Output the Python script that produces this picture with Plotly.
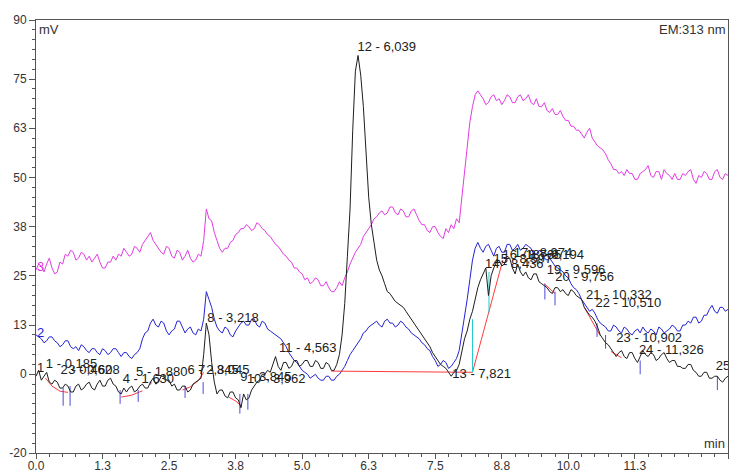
import plotly.graph_objects as go

# ---------------- data ----------------
t_grid = [round(i * 0.05, 2) for i in range(261)]

magenta_mv = [
    26.5, 28, 27.5, 26, 28, 29.5, 27, 25.5, 26, 28.5, 28, 30.5, 30, 31.5, 31, 29, 29.5, 31, 30.5, 29,
    30, 28.5, 29.5, 30.5, 28.5, 27, 27, 28.5, 28.5, 30, 29, 30.5, 30, 32, 31, 30, 30.5, 32.5, 32, 31,
    33, 34, 35, 36, 34, 33, 32, 31, 30.5, 32.5, 32, 30, 29.5, 31.5, 31, 29, 30, 31.5, 29.5, 28.5,
    29, 30.5, 30, 34, 42, 39.5, 39, 36, 34, 32, 31, 32, 32, 33.5, 34, 35.5, 36, 37, 37, 38,
    37.5, 36.5, 37, 38.5, 38, 37, 36.5, 35.5, 35, 34, 33, 32.5, 31.5, 30.5, 30, 29, 28.5, 27, 27, 26,
    25.5, 24, 24.5, 23, 23.5, 24.5, 24, 22.5, 22.5, 23.5, 22, 21, 21, 22, 23.5, 22.5, 24.5, 26, 28, 29.5,
    31, 32, 33, 35, 36, 37, 38, 39.5, 40, 41, 41.5, 40.5, 41, 42.5, 42.5, 41, 40.5, 42, 41.5, 40,
    40, 41.5, 42, 40.5, 39, 38, 38, 36.5, 36, 37.5, 37.5, 36, 35, 34.5, 37, 36, 38, 37, 39.5, 38.5,
    45, 52, 58, 64, 68, 71, 72, 71, 70, 68.5, 69, 70.5, 71, 69.5, 70, 68.5, 69.5, 71, 70.5, 69,
    69, 70.5, 71, 69.5, 70, 71, 69, 68.5, 70, 68, 68, 69, 67, 66.5, 67.5, 66, 66, 67, 65.5, 64.5,
    64.5, 63, 63, 62, 62, 61, 60, 61.5, 62.5, 60, 59, 58, 57.5, 57, 56, 54.5, 53.5, 52, 52, 51,
    51.5, 50.5, 52, 51, 51, 49.5, 49.5, 51, 51.5, 52, 53, 50.5, 50, 51.5, 51.5, 49.5, 52, 51, 50.5, 49.5,
    51, 49.5, 49.5, 51, 50.5, 51.5, 52, 49.5, 48.5, 50.5, 50, 51.5, 51, 49.5, 49.5, 51.5, 52, 50, 49.5, 51,
    50.5]

blue_mv = [
    10, 9.5, 9, 8, 8.5, 9.5, 9.5, 8.5, 8, 7, 7.5, 8.5, 8.5, 7, 6.5, 7, 6, 7.5, 7, 6,
    5.5, 6.5, 6.5, 5.5, 5, 6.5, 6, 5, 5.5, 6.5, 6.5, 5.5, 4.5, 5.5, 5.5, 4.5, 4, 5, 5.5, 6.5,
    9, 10.5, 11, 13, 14, 12.5, 12, 13.5, 13, 11, 10, 11, 11.5, 13.5, 13.5, 12, 10.5, 11.5, 12, 10.5,
    10, 11.5, 11, 14, 21, 19, 17, 14, 12, 11, 10.5, 12, 11.5, 10, 9.5, 11, 12, 13, 13.5, 12.5,
    12.5, 14, 14, 12.5, 12, 13.5, 13, 11.5, 11, 10.5, 10, 9.5, 9, 8, 7, 5.5, 4.5, 3.5, 3, 2,
    1, 0.5, 0, -1, -0.5, 0, -1, -1.5, -1.5, -0.5, -0.5, -1.5, -1.5, -0.5, 0, 1, 2, 3.5, 5, 6,
    7, 8, 9, 10.5, 11, 12, 12.5, 13, 13.5, 12.5, 12, 13.5, 14, 13, 13, 12, 12.5, 13.5, 13, 12,
    11.5, 10.5, 10, 9.5, 9, 8, 7.5, 6.5, 6, 4.5, 3.5, 2, 2.5, 3.5, 3, 1.5, 2, 3, 4, 6,
    10, 14, 19, 24, 29, 32, 33.5, 32, 31, 32.5, 33, 31.5, 30, 32, 32.5, 31, 31, 33, 33, 31.5,
    32, 33, 31.5, 32, 33, 32.5, 32, 30.5, 30.5, 31.5, 31, 29.5, 29, 29.5, 28.5, 27.5, 27, 26.5, 26, 25,
    24.5, 23, 22, 21.5, 20.5, 19, 18, 17, 16, 16.5, 15.5, 14, 13, 12.5, 12, 11, 11, 12.5, 12, 11,
    10.5, 12, 11.5, 10.5, 10, 11, 11.5, 10.5, 12, 11, 10.5, 11.5, 11, 10, 12, 11.5, 10.5, 11, 11.5, 12.5,
    12, 11, 11, 12.5, 12.5, 13.5, 13, 14.5, 14.5, 13, 13.5, 15, 15, 16.5, 17.5, 16, 15.5, 17, 17, 16,
    16.5]

black_mv = [
    -0.5, 1, -1.5, -0.5, 0.5, -2, -2.5, -1.5, -2, -3.5, -3.5, -2.5, -3, -4.5, -4.5, -3, -2.5, -4, -3.5, -2.5,
    -2, -3.5, -4, -2.5, -1.5, -3, -3, -1.5, -1, -2.5, -3, -4.5, -5, -3.5, -4.5, -3.5, -3, -4.5, -4, -3,
    -2.5, -3.5, -3.5, -2, -1, -2.5, -2, -0.5, -0.5, -1.5, -1.5, -3, -2.5, -4, -4, -3, -3, -4.5, -4, -2.5,
    -2, -1.5, -1, 5, 13, 10, 3, -2, -5, -4, -4, -5.5, -6, -4.5, -4.5, -6, -6.5, -8.5, -5, -6.5,
    -6, -4, -3, -2, -1.5, 0, 0, 1, 0.5, 2.5, 4.5, 2, 1, 3, 3, 1.5, 2, 3.5, 3.5, 2,
    2.5, 3.5, 3.5, 2, 2, 3.5, 3, 1.5, 1.5, 3, 2.5, 1, 1, 2.5, 5, 10, 18, 30, 42, 62,
    77, 81, 76, 68, 55, 45, 38, 33, 29, 26.5, 25, 23, 21, 20.5, 19.5, 18.5, 18, 17.5, 17, 16,
    15, 14, 13, 12, 11, 10, 9, 8, 7, 5.5, 4.5, 3.5, 2.5, 2, 1.5, 0.5, -0.5, 0.5, 1, 2.5,
    6, 9, 11, 14, 16, 19, 22, 24, 25.5, 27, 20, 25, 27, 28.5, 29, 27.5, 28, 30, 29.5, 27,
    25.5, 28, 26, 25, 26, 24.5, 24, 25.5, 25.5, 23.5, 23, 22.5, 22, 21, 20.5, 22, 22, 21, 21.5, 20.5,
    20, 21.5, 21, 20, 19.5, 19, 17, 16, 15, 14.5, 13.5, 12, 10, 9, 8, 7.5, 6.5, 5.5, 4.5, 5.5,
    6, 4.5, 4, 5.5, 5.5, 4, 3, 4.5, 6, 5, 4.5, 5.5, 5, 3.5, 4, 5, 5.5, 4, 3, 3.5,
    3.5, 2, 2, 1.5, 1.5, 2.5, 2.5, 1, 0.5, -0.5, -0.5, 0.5, 0.5, -1, -1, -0.5, -0.5, -1.5, -2, -1,
    -0.5]

# integration baselines (red), drop lines (cyan) and peak-boundary ticks (blue)
baseline_segments = [
    ([0.18, 0.3, 0.45, 0.6], [-1, -3, -4.3, -4.6]),
    ([1.6, 1.8, 2.0], [-5.8, -5.3, -4.2]),
    ([2.75, 2.9, 3.05, 3.15], [-4, -3.2, -1.6, 0.5]),
    ([3.62, 3.75, 3.87], [-5.8, -6.8, -8.2]),
    ([5.55, 8.2, 8.77], [0.8, 0.5, 29]),
    ([9.55, 9.75], [23, 20.5]),
    ([10.3, 10.6], [17, 9.8]),
    ([10.8, 11.0], [5.8, 4.2]),
]
drop_lines = [
    ([8.2, 8.2], [0.5, 14]),
    ([8.51, 8.51], [15.6, 26]),
]
boundary_t = [0.51, 0.64, 1.58, 1.92, 2.8, 3.14, 3.83, 3.98, 9.56, 9.75, 10.54, 10.7, 11.35, 12.8]
boundary_top = [-3.5, -3, -4, -4, -3, -2, -5, -5, 23, 21, 13, 10, 3.5, -0.5]
boundary_bottom = [-8, -8, -7.5, -7, -6, -5, -10, -9, 19, 17.5, 9.5, 6.5, 0, -4]

peak_labels = ["1 - 0,185", "2 - 0,462", "3 - 0,608", "4 - 1,630", "5 - 1,880",
               "6 - 2,845", "7 - 3,045", "8 - 3,218", "9 - 3,845", "10 - 3,962",
               "11 - 4,563", "12 - 6,039", "13 - 7,821", "14 - 8,436", "15 - 8,597",
               "16 - 8,765", "17 - 8,974", "18 - 9,194", "19 - 9,596", "20 - 9,756",
               "21 - 10,332", "22 - 10,510", "23 - 10,902", "24 - 11,326", "25 - 12,770"]
peak_times = [0.185, 0.462, 0.608, 1.630, 1.880, 2.845, 3.045, 3.218, 3.835, 3.962,
              4.563, 6.039, 7.821, 8.436, 8.597, 8.765, 8.974, 9.194, 9.596, 9.756,
              10.332, 10.510, 10.902, 11.326, 12.770]
peak_label_y = [2.5, 0.8, 1.0, -1.5, 0.5, 0.8, 1.0, 14.2, -1.0, -1.5,
                6.6, 83.0, 0.0, 27.7, 29.2, 30.2, 30.5, 30.2, 26.4, 24.4,
                20.0, 18.0, 9.1, 6.1, 1.8]

trace_names = ["1", "2", "3"]
trace_name_y = [1.5, 10.4, 27.0]

x_tick_vals = [0, 1.25, 2.5, 3.75, 5, 6.25, 7.5, 8.75, 10, 11.25, 13]
x_tick_text = ["0.0", "1.3", "2.5", "3.8", "5.0", "6.3", "7.5", "8.8", "10.0", "11.3", "13.0"]
y_tick_vals = [-20, 0, 12.5, 25, 37.5, 50, 62.5, 75, 90]
y_tick_text = ["-20", "0", "13", "25", "38", "50", "63", "75", "90"]

# ---------------- figure ----------------
FONT = "Liberation Sans, Arial, sans-serif"
MAGENTA = "#e23be2"
BLUE = "#2323d2"
BLACK = "#1e1e1e"
RED = "#ff3b3b"
CYAN = "#22cccc"
TICKBLUE = "#4b4bd8"

fig = go.Figure()
fig.add_trace(go.Scatter(x=t_grid, y=magenta_mv, mode="lines",
                         line=dict(color=MAGENTA, width=1), hoverinfo="skip"))
fig.add_trace(go.Scatter(x=t_grid, y=blue_mv, mode="lines",
                         line=dict(color=BLUE, width=1), hoverinfo="skip"))
for xs, ys in baseline_segments:
    fig.add_trace(go.Scatter(x=xs, y=ys, mode="lines",
                             line=dict(color=RED, width=1), hoverinfo="skip"))
for xs, ys in drop_lines:
    fig.add_trace(go.Scatter(x=xs, y=ys, mode="lines",
                             line=dict(color=CYAN, width=1), hoverinfo="skip"))
bx, by = [], []
for t, hi, lo in zip(boundary_t, boundary_top, boundary_bottom):
    bx += [t, t, None]
    by += [hi, lo, None]
fig.add_trace(go.Scatter(x=bx, y=by, mode="lines", connectgaps=False,
                         line=dict(color=TICKBLUE, width=1), hoverinfo="skip"))
fig.add_trace(go.Scatter(x=t_grid, y=black_mv, mode="lines",
                         line=dict(color=BLACK, width=1), hoverinfo="skip"))

fig.add_trace(go.Scatter(x=peak_times, y=peak_label_y, mode="text", text=peak_labels,
                         textposition="middle right", cliponaxis=True,
                         textfont=dict(family=FONT, size=13, color="#202020"),
                         hoverinfo="skip"))
fig.add_trace(go.Scatter(x=[0.02, 0.02, 0.02], y=trace_name_y, mode="text", text=trace_names,
                         textposition="middle right", cliponaxis=True,
                         textfont=dict(family=FONT, size=13, color=[BLACK, BLUE, MAGENTA]),
                         hoverinfo="skip"))

# the page adds an 8px body margin, so the figure is sized to fit the 739x473 window
fig.update_layout(
    width=731, height=465,
    margin=dict(l=28, r=11, t=12, b=20, autoexpand=False),
    paper_bgcolor="white", plot_bgcolor="white",
    showlegend=False,
    font=dict(family=FONT, size=12, color="#333333"),
    annotations=[
        dict(text="mV", xref="paper", yref="paper", x=0.002, y=1.0,
             xanchor="left", yanchor="top", showarrow=False,
             font=dict(family=FONT, size=13, color="#333333")),
        dict(text="EM:313 nm", xref="paper", yref="paper", x=0.998, y=1.0,
             xanchor="right", yanchor="top", showarrow=False,
             font=dict(family=FONT, size=13, color="#333333")),
        dict(text="min", xref="paper", yref="paper", x=0.998, y=0.0,
             xanchor="right", yanchor="bottom", showarrow=False,
             font=dict(family=FONT, size=13, color="#333333")),
    ],
)
fig.update_xaxes(range=[0, 13], tickmode="array", tickvals=x_tick_vals, ticktext=x_tick_text,
                 showgrid=False, zeroline=False, showline=True, linecolor="#555555",
                 linewidth=1, mirror=True, ticks="outside", ticklen=5, tickcolor="#555555",
                 ticklabelstandoff=-3,
                 tickfont=dict(family=FONT, size=12, color="#333333"),
                 minor=dict(ticks="outside", ticklen=3, dtick=0.25, tick0=0,
                            tickcolor="#555555", showgrid=False),
                 fixedrange=True)
fig.update_yaxes(range=[-20, 90], tickmode="array", tickvals=y_tick_vals, ticktext=y_tick_text,
                 showgrid=False, zeroline=False, showline=True, linecolor="#555555",
                 linewidth=1, mirror=True, ticks="outside", ticklen=6, tickcolor="#555555",
                 tickfont=dict(family=FONT, size=12, color="#333333"),
                 minor=dict(ticks="outside", ticklen=3, dtick=2.5, tick0=0,
                            tickcolor="#555555", showgrid=False),
                 fixedrange=True)

fig.write_html("out.html")
